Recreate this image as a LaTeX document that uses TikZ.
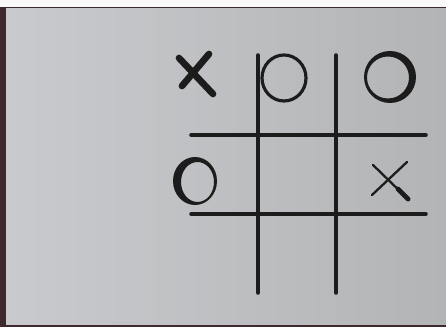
\documentclass[tikz,border=0pt]{standalone}
\usetikzlibrary{positioning}
\definecolor{screenL}{RGB}{201,202,205}
\definecolor{screenR}{RGB}{178,180,182}
\definecolor{bezel}{RGB}{62,42,46}
\definecolor{ink}{RGB}{28,28,28}

\begin{document}
\begin{tikzpicture}[
  x=0.02cm, y=-0.02cm,
  gridline/.style={draw=ink, line width=2pt, line cap=round},
  xmark/.style={draw=ink, line width=3.8pt, line cap=round},
  thinx/.style={draw=ink, line width=1.3pt, line cap=round},
  omark/.style={draw=ink, line width=1.8pt},
  oblot/.style={fill=ink, even odd rule}
]
% photo frame and screen
\useasboundingbox (0,0) rectangle (446,327);
\fill[white!95!gray] (0,0) rectangle (446,7);
\fill[bezel] (0,7) rectangle (446,8.5);
\fill[bezel] (0,7) rectangle (6,327);
\shade[left color=screenL, right color=screenR] (6,8.5) rectangle (446,325.5);
\fill[bezel] (0,325.5) rectangle (446,327);

% grid end points
\coordinate (v1t) at (258,55);  \coordinate (v1b) at (258,293);
\coordinate (v2t) at (336,55);  \coordinate (v2b) at (336,293);
\coordinate (h1l) at (191,135); \coordinate (h1r) at (426,135);
\coordinate (h2l) at (191,214); \coordinate (h2r) at (426,214);

\draw[gridline] (v1t) -- (v1b);
\draw[gridline] (v2t) -- (v2b);
\draw[gridline] (h1l) -- (h1r);
\draw[gridline] (h2l) -- (h2r);

% cell centres
\coordinate (c11) at (196,75);
\coordinate (c12) at (284,78);
\coordinate (c13) at (390,77);
\coordinate (c21) at (195,181);
\coordinate (c23) at (390,180);

% top row
\draw[xmark] ([shift={(-17,-17)}]c11) -- ([shift={(17,19)}]c11);
\draw[xmark] ([shift={(13,-21)}]c11) -- ([shift={(-14,11)}]c11);
\draw[omark] (c12) ellipse (22 and 23);
\fill[oblot] (c13) circle (26) ([shift={(-2,0.5)}]c13) circle (21);

% middle row
\fill[oblot] (c21) ellipse (22 and 24) ([shift={(2.5,1)}]c21) ellipse (16.5 and 20);
\draw[thinx] ([shift={(-18,15)}]c23) -- ([shift={(17,-18)}]c23);
\draw[thinx] ([shift={(-17,-15)}]c23) -- ([shift={(19,20)}]c23);
\draw[ink, line width=2.8pt, line cap=round] ([shift={(8,9)}]c23) -- ([shift={(18,19)}]c23);
\end{tikzpicture}
\end{document}
